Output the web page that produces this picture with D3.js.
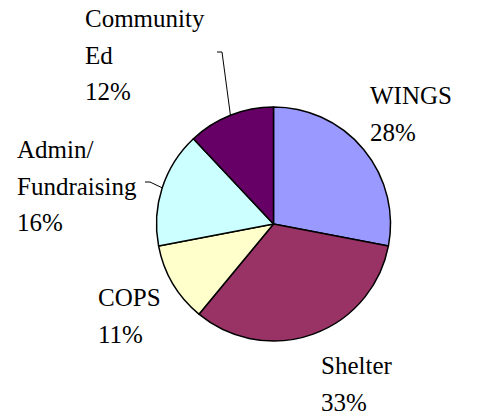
<!DOCTYPE html>
<html>
<head>
<meta charset="utf-8">
<script src="https://cdn.jsdelivr.net/npm/d3@7"></script>
<style>
body{margin:0;background:#fff}
#chart{position:relative;width:477px;height:416px}
#chart svg{position:absolute;left:0;top:0}
.lbl{position:absolute;white-space:nowrap;font-family:'Liberation Serif','Tinos','Times New Roman',serif;color:#000}
</style>
</head>
<body>
<div id="chart"></div>
<script>
// data
const categories=["WINGS","Shelter","COPS","Admin/\nFundraising","Community\nEd"]
const values=[28,33,11,16,12]
const colors=["#9999FF","#993366","#FFFFCC","#CCFFFF","#660066"]

// layout
const width=477
const height=416
const cx=273.5
const cy=224
const radius=117
const fontSize=25
const lineH=36.5
// label anchor: left x, first baseline (page coords)
const labelPos=[[370,105],[321,375],[98,307],[17,159],[85,28]]
// leader start points (null = no leader)
const leaderStart=[null,null,null,[145,182],[217,52]]
// distance from top of a line box to its baseline (Liberation Serif ascent 0.891em)
const baseOff=(lineH-fontSize*1.107)/2+fontSize*0.891

let box=d3.select("#chart")
let svg=box.append("svg").attr("width",width).attr("height",height)
let g=svg.append("g").attr("transform","translate("+cx+","+cy+")")

let pie=d3.pie().sort(null).value(d=>d)
let arcs=pie(values)
let arc=d3.arc().innerRadius(0).outerRadius(radius)
let edge=d3.arc().innerRadius(radius).outerRadius(radius)

g.selectAll("path.slice").data(arcs).enter().append("path")
  .attr("class","slice")
  .attr("d",arc)
  .style("fill",(d,i)=>colors[i])
  .style("stroke","#000")
  .style("stroke-width",1.5)
  .style("stroke-linejoin","round")

// leader lines
arcs.forEach(function(d,i){
  let s=leaderStart[i]
  if(!s)return
  let e=edge.centroid(d)
  let pts=[[s[0],s[1]],[s[0]+5,s[1]],[e[0]+cx,e[1]+cy]]
  svg.append("path")
    .attr("d",d3.line()(pts))
    .style("fill","none")
    .style("stroke","#000")
    .style("stroke-width",1)
})

// labels as text blocks
let fmt=d3.format(".0%")
let total=d3.sum(values)
arcs.forEach(function(d,i){
  let lines=categories[i].split("\n")
  lines.push(fmt(values[i]/total))
  let div=box.append("div").attr("class","lbl")
    .style("left",labelPos[i][0]+"px")
    .style("top",(labelPos[i][1]-baseOff)+"px")
    .style("font-size",fontSize+"px")
    .style("line-height",lineH+"px")
  lines.forEach(function(l){
    div.append("div").text(l)
  })
})
</script>
</body>
</html>
